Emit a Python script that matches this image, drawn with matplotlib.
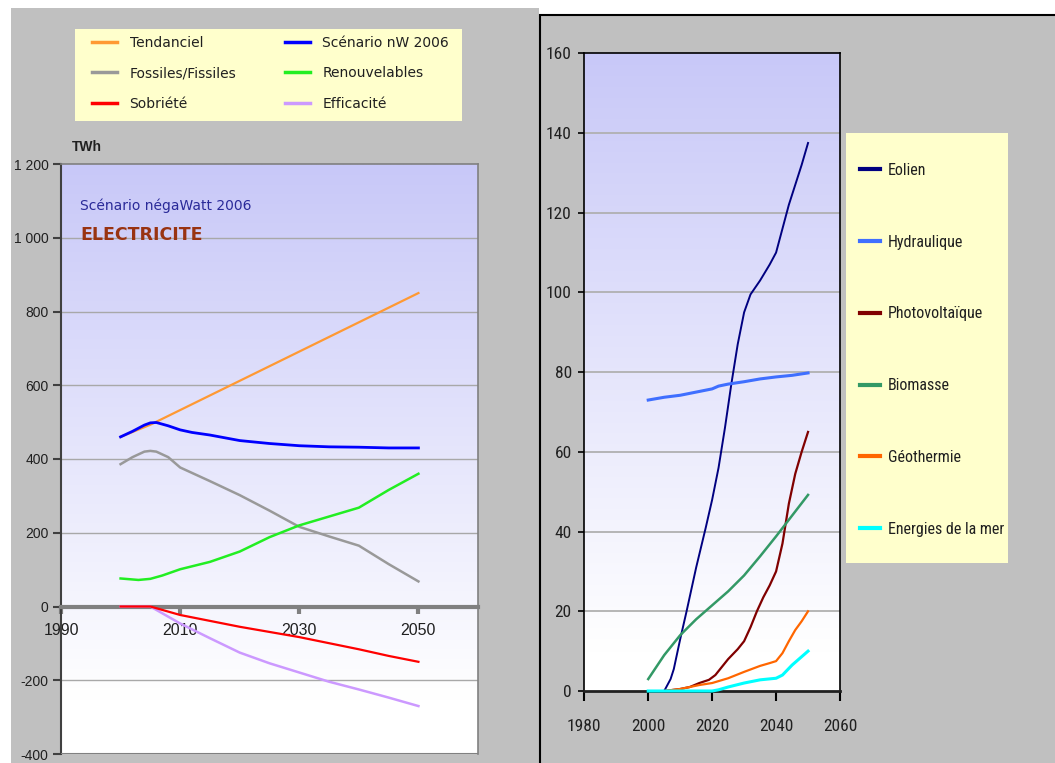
import numpy as np
import matplotlib
matplotlib.use("Agg")
import matplotlib.pyplot as plt
from matplotlib.patches import Rectangle
from matplotlib.lines import Line2D
from matplotlib import font_manager

# ------------------- DATA : left panel (TWh) -------------------
tend_years = [2000, 2005, 2050]
tend_vals = [460, 493, 850]

nw_years = [2000, 2002, 2004, 2005, 2006, 2008, 2010, 2012, 2015, 2020, 2025, 2030, 2035, 2040, 2045, 2050]
nw_vals = [460, 475, 492, 498, 499, 490, 479, 472, 465, 450, 442, 436, 433, 432, 430, 430]

fos_years = [2000, 2002, 2004, 2005, 2006, 2008, 2010, 2015, 2020, 2025, 2030, 2035, 2040, 2045, 2050]
fos_vals = [386, 405, 420, 422, 420, 405, 377, 340, 302, 260, 216, 190, 165, 115, 68]

ren_years = [2000, 2003, 2005, 2007, 2010, 2015, 2020, 2025, 2030, 2035, 2040, 2045, 2050]
ren_vals = [76, 72, 75, 84, 101, 121, 149, 188, 220, 244, 268, 316, 360]

sob_years = [2000, 2005, 2010, 2020, 2030, 2040, 2045, 2050]
sob_vals = [0, 0, -23, -55, -83, -116, -134, -150]

eff_years = [2000, 2005, 2010, 2015, 2020, 2025, 2030, 2035, 2040, 2045, 2050]
eff_vals = [0, 0, -46, -86, -125, -154, -179, -204, -225, -247, -270]

left_yticks = [-400, -200, 0, 200, 400, 600, 800, 1000, 1200]
left_ylabels = ["-400", "-200", "0", "200", "400", "600", "800", "1 000", "1 200"]
left_xticks = [1990, 2010, 2030, 2050]

# ------------------- DATA : right panel (renewables detail) -------------------
eol_years = [2005, 2007, 2008, 2010, 2012, 2015, 2018, 2020, 2022, 2024, 2026, 2028, 2030, 2032, 2035, 2038, 2040, 2042, 2044, 2046, 2048, 2050]
eol_vals = [0, 3, 5.5, 13, 20, 31, 41, 48, 56, 66, 77, 87, 95, 99.5, 103, 107, 110, 116, 122, 127, 132, 137.5]

hyd_years = [2000, 2005, 2010, 2015, 2020, 2022, 2025, 2030, 2035, 2040, 2045, 2050]
hyd_vals = [73, 73.7, 74.2, 75, 75.8, 76.5, 77, 77.6, 78.3, 78.8, 79.2, 79.8]

pv_years = [2005, 2010, 2013, 2016, 2019, 2021, 2023, 2025, 2028, 2030, 2032, 2034, 2036, 2038, 2040, 2042, 2044, 2046, 2048, 2050]
pv_vals = [0, 0.5, 1, 2, 2.8, 4, 6, 8, 10.5, 12.5, 16, 20, 23.5, 26.5, 30, 37, 47, 54.5, 60, 65]

bio_years = [2000, 2005, 2010, 2015, 2020, 2025, 2030, 2035, 2040, 2045, 2050]
bio_vals = [3, 9, 14, 18, 21.5, 25, 29, 33.8, 38.8, 44, 49.2]

geo_years = [2005, 2010, 2013, 2016, 2020, 2025, 2030, 2035, 2038, 2040, 2042, 2044, 2046, 2048, 2050]
geo_vals = [0, 0.5, 1, 1.5, 2, 3.2, 4.8, 6.3, 7, 7.5, 9.5, 12.5, 15.3, 17.5, 20]

mer_years = [2000, 2020, 2022, 2025, 2030, 2035, 2040, 2042, 2045, 2050]
mer_vals = [0, 0, 0.3, 1, 2, 2.8, 3.2, 4, 6.5, 10]

right_yticks = [0, 20, 40, 60, 80, 100, 120, 140, 160]
right_xticks = [1980, 2000, 2020, 2040, 2060]

# ------------------- STYLE -------------------
W, H = 1055, 763
GRAY_BG = "#c0c0c0"
LEGEND_BG = "#ffffcc"
TOP_LAV = np.array([200, 200, 248]) / 255.0

names = {f.name for f in font_manager.fontManager.ttflist}
NARROW = "Liberation Sans"
for cand in ["Liberation Sans Narrow", "Roboto Condensed", "Open Sans Condensed", "Roboto"]:
    if cand in names:
        NARROW = cand
        break
plt.rcParams["font.family"] = ["Liberation Sans", "DejaVu Sans"]


def fig_rect(fig, x0, y0, x1, y1, **kw):
    """Rectangle given in pixel coords (origin top-left), drawn behind the axes."""
    r = Rectangle((x0 / W, 1 - y1 / H), (x1 - x0) / W, (y1 - y0) / H,
                  transform=fig.transFigure, zorder=-10, **kw)
    fig.add_artist(r)
    return r


def fig_axes(fig, x0, y0, x1, y1):
    return fig.add_axes([x0 / W, 1 - y1 / H, (x1 - x0) / W, (y1 - y0) / H])


def gradient(ax, ymin, ymax, white_at):
    """Vertical lavender-to-white background filling the plot area."""
    ys = np.linspace(ymax, ymin, 256)
    t = np.clip((ys - white_at) / (ymax - white_at), 0, 1)
    col = 1 - t[:, None] * (1 - TOP_LAV[None, :])
    img = np.repeat(col[:, None, :], 2, axis=1)
    ax.imshow(img, extent=[0, 1, 0, 1], transform=ax.transAxes,
              aspect="auto", zorder=0, interpolation="bilinear")


fig = plt.figure(figsize=(W / 100, H / 100), dpi=100)
fig.patch.set_facecolor("white")

# panel backgrounds
fig_rect(fig, 11, 8, 539, 770, facecolor=GRAY_BG, edgecolor="none")
fig_rect(fig, 539.5, 14.5, 1070, 780, facecolor=GRAY_BG, edgecolor="black", linewidth=1.5)

# ------------------- LEFT CHART -------------------
axl = fig_axes(fig, 61, 164, 478, 754)
axl.set_xlim(1990, 2060)
axl.set_ylim(-400, 1200)
gradient(axl, -400, 1200, -250)

for v in left_yticks[1:-1]:
    if v != 0:
        axl.axhline(v, color="#a8a8a8", lw=1, zorder=1)

left_series = [
    axl.plot(tend_years, tend_vals, color="#ff9933", lw=1.6, zorder=3, label="Tendanciel")[0],
    axl.plot(fos_years, fos_vals, color="#999999", lw=1.8, zorder=3, label="Fossiles/Fissiles")[0],
    axl.plot(ren_years, ren_vals, color="#22ee22", lw=1.8, zorder=3, label="Renouvelables")[0],
    axl.plot(eff_years, eff_vals, color="#cc99ff", lw=1.8, zorder=3, label="Efficacité")[0],
    axl.plot(sob_years, sob_vals, color="#ff0000", lw=1.6, zorder=3, label="Sobriété")[0],
    axl.plot(nw_years, nw_vals, color="#0000ff", lw=2, zorder=4, label="Scénario nW 2006")[0],
]

for s in ["top", "right"]:
    axl.spines[s].set_color("#808080")
    axl.spines[s].set_linewidth(1.2)
axl.spines["left"].set_color("#404040")
axl.spines["left"].set_linewidth(1.5)
axl.spines["bottom"].set_position(("data", 0))
axl.spines["bottom"].set_color("#808080")
axl.spines["bottom"].set_linewidth(3)
axl.spines["bottom"].set_zorder(2.5)
axl.axhline(-400, color="#808080", lw=1.5, zorder=5)

axl.set_yticks(left_yticks)
axl.set_yticklabels(left_ylabels)
axl.set_xticks(left_xticks)
axl.set_xticklabels([str(x) for x in left_xticks])
axl.tick_params(axis="y", direction="out", length=6, width=1.5, color="#404040",
                labelsize=10, labelcolor="#202020", pad=3)
axl.tick_params(axis="x", direction="out", length=5, width=3, color="#808080",
                labelsize=11.5, labelcolor="#202020", pad=7)

fig.text(72 / W, 1 - 147 / H, "TWh", fontsize=10, fontweight="bold",
         color="#202020", va="center", ha="left")
fig.text(80 / W, 1 - 206 / H, "Scénario négaWatt 2006", fontsize=10,
         family="DejaVu Sans", color="#2a2a99", va="center", ha="left")
fig.text(80 / W, 1 - 235 / H, "ELECTRICITE", fontsize=12.5, fontweight="bold",
         family="DejaVu Sans", color="#993311", va="center", ha="left")

# left legend box
fig_rect(fig, 75, 29, 462, 121, facecolor=LEGEND_BG, edgecolor="none")
order = ["Tendanciel", "Fossiles/Fissiles", "Sobriété",
         "Scénario nW 2006", "Renouvelables", "Efficacité"]
by_label = {ln.get_label(): ln for ln in left_series}
handles = [Line2D([], [], color=by_label[k].get_color(), lw=2.5) for k in order]
fig.legend(handles, order, loc="upper left", ncol=2, frameon=False,
           bbox_to_anchor=(92 / W, 1 - 36 / H), borderaxespad=0, borderpad=0,
           prop={"family": "DejaVu Sans", "size": 10}, labelspacing=1.17,
           handlelength=1.8, handletextpad=0.9, columnspacing=3.5,
           labelcolor="#202020")

# ------------------- RIGHT CHART -------------------
axr = fig_axes(fig, 584.3, 53.3, 840, 691)
axr.set_xlim(1980, 2060)
axr.set_ylim(0, 160)
gradient(axr, 0, 160, 10)

for v in right_yticks[1:-1]:
    axr.axhline(v, color="#b0b0b0", lw=1.3, zorder=1)

right_series = [
    axr.plot(eol_years, eol_vals, color="#000080", lw=1.4, zorder=3, label="Eolien")[0],
    axr.plot(hyd_years, hyd_vals, color="#3f6fff", lw=2.2, zorder=3, label="Hydraulique")[0],
    axr.plot(pv_years, pv_vals, color="#800000", lw=1.6, zorder=3, label="Photovoltaïque")[0],
    axr.plot(bio_years, bio_vals, color="#339966", lw=1.8, zorder=3, label="Biomasse")[0],
    axr.plot(geo_years, geo_vals, color="#ff6600", lw=1.6, zorder=3, label="Géothermie")[0],
    axr.plot(mer_years, mer_vals, color="#00ffff", lw=2.2, zorder=4, label="Energies de la mer",
             clip_on=False)[0],
]

for s in ["top", "right", "left"]:
    axr.spines[s].set_color("black")
    axr.spines[s].set_linewidth(1.2)
axr.spines["bottom"].set_color("#202020")
axr.spines["bottom"].set_linewidth(2)

axr.set_yticks(right_yticks)
axr.set_xticks(right_xticks)
tick_font = {"family": NARROW, "size": 12.5}
axr.set_yticklabels([str(v) for v in right_yticks], fontdict=tick_font)
axr.set_xticklabels([str(v) for v in right_xticks], fontdict=tick_font)
axr.tick_params(axis="y", direction="out", length=4.5, width=1.2, color="black",
                labelcolor="#202020", pad=4.5)
axr.tick_params(axis="x", direction="out", length=7, width=1.5, color="black",
                labelcolor="#202020", pad=13)

# right legend box
fig_rect(fig, 845.7, 132.7, 1007.7, 562.7, facecolor=LEGEND_BG, edgecolor="none")
rhandles = [Line2D([], [], color=ln.get_color(), lw=3) for ln in right_series]
rlabels = [ln.get_label() for ln in right_series]
fig.legend(rhandles, rlabels, loc="upper left", frameon=False,
           bbox_to_anchor=(860 / W, 1 - 163 / H), borderaxespad=0, borderpad=0,
           prop={"family": NARROW, "size": 11.5},
           labelspacing=3.55, handlelength=1.25, handletextpad=0.5,
           labelcolor="#202020")

fig.savefig("out.png", dpi=100)
